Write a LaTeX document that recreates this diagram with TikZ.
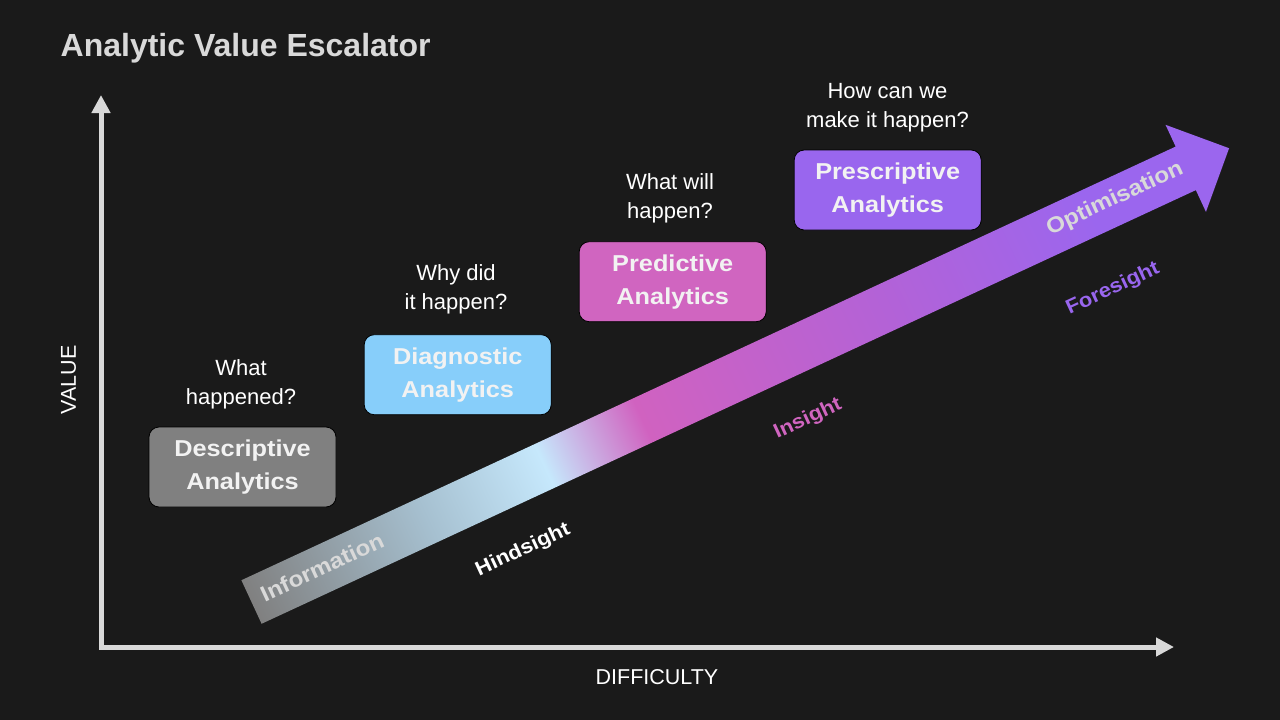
\documentclass[tikz,border=0pt]{standalone}
\usepackage{fontspec}
\setmainfont{Liberation Sans}
\newfontfamily\widefont[FakeStretch=1.1]{Liberation Sans}
\usetikzlibrary{arrows.meta}
\definecolor{bg}{HTML}{1A1A1A}
\definecolor{axisgrey}{HTML}{D9D9D9}
\definecolor{descr}{HTML}{808080}
\definecolor{diagn}{HTML}{87CEFA}
\definecolor{predi}{HTML}{D065C0}
\definecolor{presc}{HTML}{9966EE}
\definecolor{boxtext}{HTML}{F2F2F2}
\definecolor{sc0}{RGB}{128,128,128}
\definecolor{sc1}{RGB}{166,192,208}
\definecolor{sc2}{RGB}{198,232,252}
\definecolor{sc3}{RGB}{208,98,192}
\definecolor{sc4}{RGB}{180,98,214}
\definecolor{sc5}{RGB}{155,102,238}
\pgfdeclarehorizontalshading{escal}{100bp}{color(0bp)=(sc0); color(25bp)=(sc0); color(34bp)=(sc1); color(40bp)=(sc2); color(45bp)=(sc3); color(57bp)=(sc4); color(68bp)=(sc5); color(100bp)=(sc5)}
\begin{document}
\begin{tikzpicture}[x=1pt,y=-1pt,
  axisline/.style={draw=axisgrey, line width=5pt, line join=miter},
  stagebox/.style={draw=black, line width=0.8pt, rounded corners=10pt,
    minimum width=187pt, minimum height=80pt, align=center, text=boxtext,
    inner sep=0pt, font=\widefont\bfseries\fontsize{23}{33}\selectfont},
  question/.style={text=white, align=center, inner sep=0pt, anchor=south,
    font=\fontsize{22}{29}\selectfont},
  axlabel/.style={text=white, inner sep=0pt, font=\fontsize{21.5}{26}\selectfont},
  onarrow/.style={rotate=24.9, inner sep=0pt, text=axisgrey,
    font=\widefont\bfseries\fontsize{22}{26}\selectfont},
  underarrow/.style={rotate=24.9, inner sep=0pt,
    font=\widefont\bfseries\fontsize{20}{24}\selectfont}]
\fill[bg] (0,0) rectangle (1280,720);
\useasboundingbox (0,0) rectangle (1280,720);

% title
\node[anchor=base west, inner sep=0pt, text=axisgrey,
  font=\bfseries\fontsize{32}{36}\selectfont] (title) at (60.5,56.7) {Analytic Value Escalator};

% axes
\coordinate (origin) at (101,647);
\coordinate (vtip) at (101,95);
\coordinate (htip) at (1174,647);
\draw[axisline, {Triangle[length=18pt,width=18pt]}-{Triangle[length=18pt,width=18pt]}]
  (vtip) -- (origin) -- (htip);
\node[axlabel, rotate=90] (vlab) at (68.5,380) {VALUE};
\node[axlabel] (hlab) at (657,677) {DIFFICULTY};

% escalator arrow
\begin{scope}[transform canvas={shift={(251.5,602)}, rotate=24.9}]
  \shade[shading=escal] (0,-24) -- (1030,-24) -- (1030,-48) -- (1077.8,0)
    -- (1030,48) -- (1030,24) -- (0,24) -- cycle;
\end{scope}

\node[onarrow] (info) at (322,567) {Information};
\node[onarrow] (opti) at (1115,199) {Optimisation};
\node[underarrow, text=white] (hind) at (523,550) {Hindsight};
\node[underarrow, text=predi] (insi) at (808,419) {Insight};
\node[underarrow, text=presc] (fore) at (1113,289) {Foresight};

% boxes
\node[stagebox, fill=descr] (desc) at (242.5,467) {Descriptive\\Analytics};
\node[stagebox, fill=diagn] (diag) at (457.7,374.7) {Diagnostic\\Analytics};
\node[stagebox, fill=predi] (pred) at (672.7,281.7) {Predictive\\Analytics};
\node[stagebox, fill=presc] (pres) at (887.7,190) {Prescriptive\\Analytics};

% questions
\node[question] (q1) at (241,409.7) {What\\happened?};
\node[question] (q2) at (456,314.7) {Why did\\it happen?};
\node[question] (q3) at (670,223) {What will\\happen?};
\node[question] (q4) at (887.5,132) {How can we\\make it happen?};
\end{tikzpicture}
\end{document}
